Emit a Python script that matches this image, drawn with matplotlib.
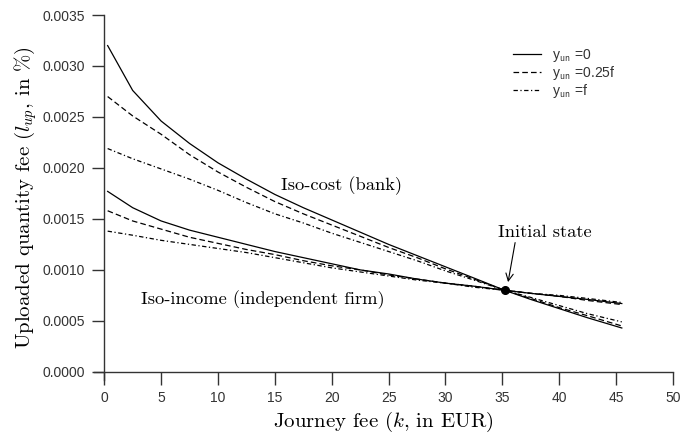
import matplotlib
matplotlib.use("Agg")
import matplotlib.pyplot as plt

# journey fee grid (EUR)
k = [0.3, 2.5, 5, 7.5, 10, 12.5, 15, 17.5, 20, 22.5, 25, 27.5, 30, 32.5, 35.2, 37.5, 40, 42.5, 45.5]

# iso-cost curves of the bank
cost_y0 = [0.00320, 0.00276, 0.00246, 0.00224, 0.00205, 0.00189, 0.00174, 0.00161, 0.00149, 0.00137,
           0.00125, 0.00114, 0.00103, 0.00092, 0.00080, 0.00071, 0.00062, 0.00053, 0.00043]
cost_y025 = [0.00270, 0.00251, 0.00233, 0.00213, 0.00196, 0.00181, 0.00167, 0.00155, 0.00144, 0.00133,
             0.00122, 0.00112, 0.00101, 0.00091, 0.00080, 0.00072, 0.00063, 0.00055, 0.00045]
cost_yf = [0.00219, 0.00209, 0.00199, 0.00189, 0.00178, 0.00166, 0.00155, 0.00146, 0.00136, 0.00127,
           0.00118, 0.00109, 0.00099, 0.00090, 0.00080, 0.00073, 0.00065, 0.00057, 0.00049]

# iso-income curves of the independent firm
inc_y0 = [0.00177, 0.00161, 0.00148, 0.00139, 0.00132, 0.00125, 0.00118, 0.00112, 0.00106, 0.00100,
          0.00096, 0.00091, 0.00087, 0.00084, 0.00080, 0.00077, 0.00074, 0.00071, 0.00067]
inc_y025 = [0.00158, 0.00148, 0.00140, 0.00132, 0.00126, 0.00120, 0.00115, 0.00109, 0.00104, 0.00100,
            0.00095, 0.00091, 0.00087, 0.00084, 0.00080, 0.00077, 0.00074, 0.00070, 0.00066]
inc_yf = [0.00138, 0.00134, 0.00129, 0.00125, 0.00121, 0.00117, 0.00112, 0.00107, 0.00102, 0.00098,
          0.00094, 0.00090, 0.00087, 0.00083, 0.00080, 0.00077, 0.00075, 0.00072, 0.00068]

init_k = 35.2
init_l = 0.0008

labels = [r"y$_{\mathsf{un}}$ =0", r"y$_{\mathsf{un}}$ =0.25f", r"y$_{\mathsf{un}}$ =f"]
xticks = [0, 5, 10, 15, 20, 25, 30, 35, 40, 45, 50]
yticks = [0.0, 0.0005, 0.0010, 0.0015, 0.0020, 0.0025, 0.0030, 0.0035]

plt.rcParams["mathtext.fontset"] = "cm"
plt.rcParams["axes.unicode_minus"] = False

serif = "cmr10"
sans = "Liberation Sans"
axis_col = "#333333"

styles = ["-", (0, (4.5, 2.5)), (0, (3.5, 2, 1, 2))]
lw = 0.9
note_size = 13.3

fig = plt.figure(figsize=(6.81, 4.37), dpi=100)
ax = fig.add_axes([94 / 681, 57 / 437, 579 / 681, 365 / 437])

for ys, st, lab in zip([cost_y0, cost_y025, cost_yf], styles, labels):
    ax.plot(k, ys, color="black", lw=lw, linestyle=st, label=lab)
for ys, st in zip([inc_y0, inc_y025, inc_yf], styles):
    ax.plot(k, ys, color="black", lw=lw, linestyle=st)

ax.plot([init_k], [init_l], "o", color="black", ms=5.5, zorder=5)

ax.annotate("Initial state", xy=(35.5, 0.00088), xytext=(34.6, 0.00137),
            fontsize=note_size, family=serif, va="center", ha="left",
            arrowprops=dict(arrowstyle="->", color="black", lw=0.8,
                            shrinkA=0, shrinkB=0, relpos=(0.19, 0.0)))
ax.text(15.5, 0.00183, "Iso-cost (bank)", fontsize=note_size, family=serif, va="center")
ax.text(3.2, 0.00071, "Iso-income (independent firm)", fontsize=note_size, family=serif, va="center")

ax.set_xlim(-0.9, 50)
ax.set_ylim(-0.00008, 0.0035)
ax.spines["left"].set_position(("data", 0))
ax.spines["bottom"].set_position(("data", 0))
ax.spines["right"].set_visible(False)
ax.spines["top"].set_visible(False)
for s in ["left", "bottom"]:
    ax.spines[s].set_color(axis_col)
    ax.spines[s].set_linewidth(1.0)

ax.set_xticks(xticks)
ax.set_xticklabels([str(v) for v in xticks])
ax.set_yticks(yticks)
ax.set_yticklabels([f"{v:.4f}" for v in yticks])
ax.tick_params(direction="out", length=9, width=1.0, color=axis_col,
               labelsize=10, labelcolor=axis_col, pad=5)
for t in ax.get_xticklabels() + ax.get_yticklabels():
    t.set_family(sans)

ax.set_xlabel(r"Journey fee ($k$, in EUR)", fontsize=15, family=serif, labelpad=3)
ax.set_ylabel(r"Uploaded quantity fee ($l_{up}$, in %)", fontsize=15, family=serif, labelpad=2)

leg = ax.legend(loc="upper left", bbox_to_anchor=(503 / 681, 1 - 37 / 437),
                bbox_transform=fig.transFigure, frameon=False,
                prop={"family": sans, "size": 10}, handlelength=2.0,
                handletextpad=0.85, labelspacing=0.0, borderpad=0.2)
for t in leg.get_texts():
    t.set_color(axis_col)

fig.savefig("out.png", dpi=100)
